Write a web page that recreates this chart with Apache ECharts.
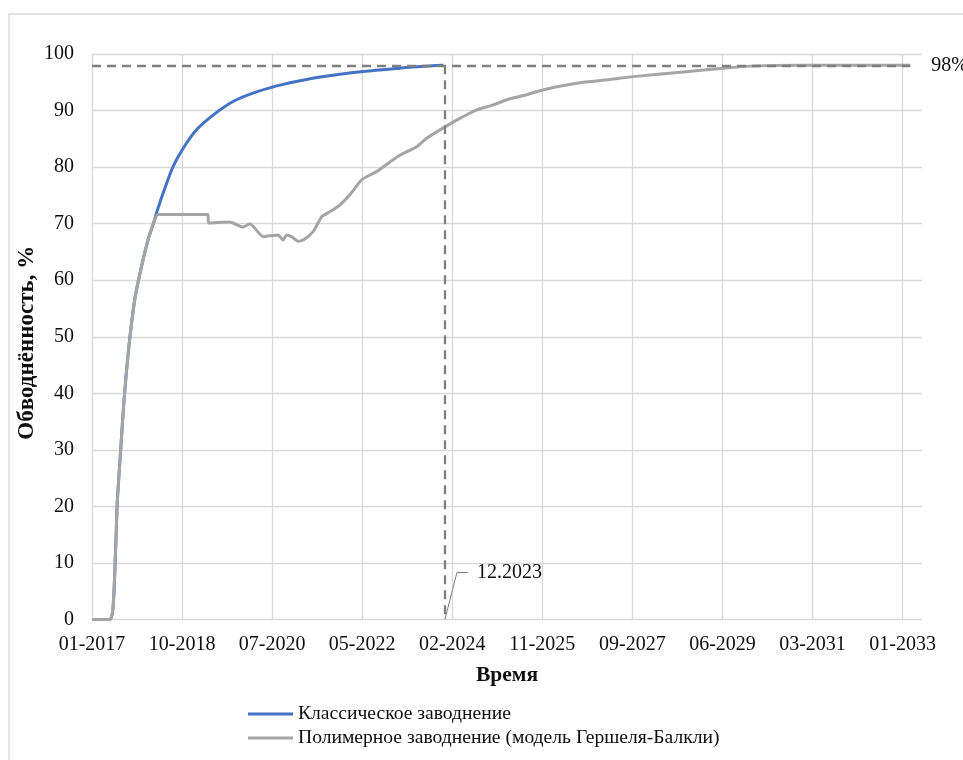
<!DOCTYPE html>
<html>
<head>
<meta charset="utf-8">
<script src="https://cdn.jsdelivr.net/npm/echarts@6/dist/echarts.min.js"></script>
<style>
html,body{margin:0;padding:0;background:#fff;}
#chart{width:963px;height:760px;}
</style>
</head>
<body>
<div id="chart"></div>
<script>
// ---- data ----
const seriesNames = ['Классическое заводнение', 'Полимерное заводнение (модель Гершеля-Балкли)'];

const classicDates = ['2017-01-01','2017-05-09','2017-06-02','2017-06-21','2017-07-03','2017-07-27','2017-08-21','2017-09-23','2017-11-05','2017-12-24','2018-02-09','2018-03-20',
  '2018-04-22','2018-06-10','2018-08-09','2018-10-20','2019-01-25','2019-05-25','2019-10-16','2020-04-02','2020-09-18','2021-03-29','2021-11-25','2022-05-12','2023-02-01','2023-07-01','2023-12-11'];
const classicValues = [0,0,2.2,12.8,21,30,39,48,56.5,62.4,67.1,70.0,
  72.7,76.2,80.1,83.3,86.6,89.2,91.6,93.3,94.5,95.5,96.4,96.9,97.5,97.8,98.0];

const polymerDates = ['2017-01-01','2017-05-09','2017-06-02','2017-06-21','2017-07-03','2017-07-27','2017-08-21','2017-09-23','2017-11-05','2017-12-24','2018-02-09','2018-03-20',
  '2018-04-23','2019-04-19','2019-04-20','2019-09-22','2019-12-28','2020-02-14','2020-05-20','2020-09-05','2020-10-11','2020-11-05','2020-12-11','2021-01-28','2021-03-05',
  '2021-05-16','2021-07-16','2021-09-14','2021-11-25','2022-02-05','2022-05-03','2022-08-17','2022-11-21','2023-02-01','2023-06-02','2023-08-13','2023-12-23',
  '2024-03-17','2024-08-08','2024-12-06','2025-03-24','2025-08-04','2025-11-08','2026-03-09','2026-09-17','2027-03-29','2027-09-13','2028-09-08','2029-06-24',
  '2030-02-20','2030-12-30','2033-03-03'];
const polymerValues = [0,0,2.2,12.8,21,30,39,48,56.5,62.4,67.1,70.0,
  71.6,71.6,70.1,70.3,69.4,70.0,67.7,68.0,67.1,68.0,67.7,66.9,67.1,
  68.6,71.2,72.1,73.3,75.1,77.8,79.2,80.9,82.1,83.6,85.1,87.1,
  88.3,90.1,91.0,92.0,92.8,93.5,94.2,95.0,95.5,96.0,96.8,97.5,
  97.9,98.0,98.0];

const targetLevel = 98;            // %
const targetLevelLabel = '98%';
const markerDate = '2023-12-23';
const markerLabel = '12.2023';
const lineEndDate = '2033-03-03';

const axisStart = '2017-01-01';
const xTickStepDays = 650;
const xTickCount = 10;             // 01-2017 ... 01-2033
const xAxisMaxDays = 5990;
const yMin = 0, yMax = 100, yStep = 10;
const xAxisTitle = 'Время';
const yAxisTitle = 'Обводнённость, %';

// ---- helpers ----
const DAY = 86400000;
const t0 = Date.parse(axisStart);
const toDays = s => (Date.parse(s) - t0) / DAY;
const fmt = d => {
  const dt = new Date(t0 + d * DAY);
  return String(dt.getUTCMonth() + 1).padStart(2, '0') + '-' + dt.getUTCFullYear();
};
const xTicks = [];
for (let i = 0; i < xTickCount; i++) xTicks.push(i * xTickStepDays);

const classicData = classicDates.map((d, i) => [toDays(d), classicValues[i]]);
const polymerData = polymerDates.map((d, i) => [toDays(d), polymerValues[i]]);
const markerX = toDays(markerDate);
const lineEndX = toDays(lineEndDate);

const FONT = '"Liberation Serif", "Times New Roman", serif';
const TXT = '#0d0d0d';

const chart = echarts.init(document.getElementById('chart'), null, {renderer: 'canvas'});
chart.setOption({
  animation: false,
  backgroundColor: '#fff',
  grid: {left: 92, right: 41, top: 54, bottom: 140.5, containLabel: false},
  xAxis: {
    type: 'value', min: 0, max: xAxisMaxDays, interval: xTickStepDays,
    name: xAxisTitle, nameLocation: 'middle', nameGap: 45, nameMoveOverlap: false,
    nameTextStyle: {fontFamily: FONT, fontSize: 21.5, fontWeight: 'bold', color: TXT},
    axisLine: {show: false},
    axisTick: {show: false, customValues: xTicks},
    axisLabel: {customValues: xTicks, formatter: v => fmt(v), fontFamily: FONT, fontSize: 20, color: TXT, margin: 15},
    splitLine: {show: true, lineStyle: {color: '#d9d9d9', width: 1.3}}
  },
  yAxis: {
    type: 'value', min: yMin, max: yMax, interval: yStep,
    name: yAxisTitle, nameLocation: 'middle', nameGap: 53, nameRotate: 90, nameMoveOverlap: false,
    nameTextStyle: {fontFamily: FONT, fontSize: 23, fontWeight: 'bold', color: TXT, padding: [0, 12, 0, 0]},
    axisLine: {show: false},
    axisTick: {show: false},
    axisLabel: {fontFamily: FONT, fontSize: 20, color: TXT, margin: 18},
    splitLine: {show: true, lineStyle: {color: '#d9d9d9', width: 1.3}}
  },
  legend: {
    orient: 'vertical', left: 248, top: 704, padding: 0,
    icon: 'rect', itemWidth: 45, itemHeight: 3, itemGap: 4,
    textStyle: {fontFamily: FONT, fontSize: 19.6, color: TXT, lineHeight: 20},
    data: seriesNames
  },
  series: [
    {
      name: seriesNames[0], type: 'line', data: classicData, showSymbol: false, smooth: 0.3,
      lineStyle: {color: '#4472c4', width: 3}, itemStyle: {color: '#4472c4'}, z: 2,
      markLine: {
        silent: true, symbol: ['none', 'none'], label: {show: false},
        lineStyle: {color: '#7f7f7f', width: 2.3, type: [9, 6]},
        data: [
          [{coord: [0, targetLevel]}, {coord: [lineEndX, targetLevel]}],
          [{coord: [markerX, targetLevel]}, {coord: [markerX, yMin]}]
        ]
      }
    },
    {
      name: seriesNames[1], type: 'line', data: polymerData, showSymbol: false, smooth: 0.2,
      lineStyle: {color: '#a5a5a5', width: 3}, itemStyle: {color: '#a5a5a5'}, z: 3
    }
  ]
});

function addAnnotations() {
  const pm = chart.convertToPixel({gridIndex: 0}, [markerX, yMin]);
  const pt = chart.convertToPixel({gridIndex: 0}, [lineEndX, targetLevel]);
  chart.setOption({
    graphic: [
      {type: 'rect', shape: {x: 9, y: 14, width: 1000, height: 800}, style: {fill: 'none', stroke: '#d9d9d9', lineWidth: 1.3}, silent: true, z: -1},
      {type: 'polyline', shape: {points: [[pm[0], pm[1]], [pm[0] + 12, pm[1] - 47], [pm[0] + 23, pm[1] - 47]]},
        style: {stroke: '#7f7f7f', lineWidth: 1, fill: 'none'}, silent: true},
      {type: 'text', x: pm[0] + 32, y: pm[1] - 47,
        style: {text: markerLabel, font: '20px ' + FONT, fill: TXT, verticalAlign: 'middle', align: 'left'}},
      {type: 'text', x: pt[0] + 21, y: pt[1],
        style: {text: targetLevelLabel, font: '20px ' + FONT, fill: TXT, verticalAlign: 'middle', align: 'left'}}
    ]
  });
}
addAnnotations();
</script>
</body>
</html>
